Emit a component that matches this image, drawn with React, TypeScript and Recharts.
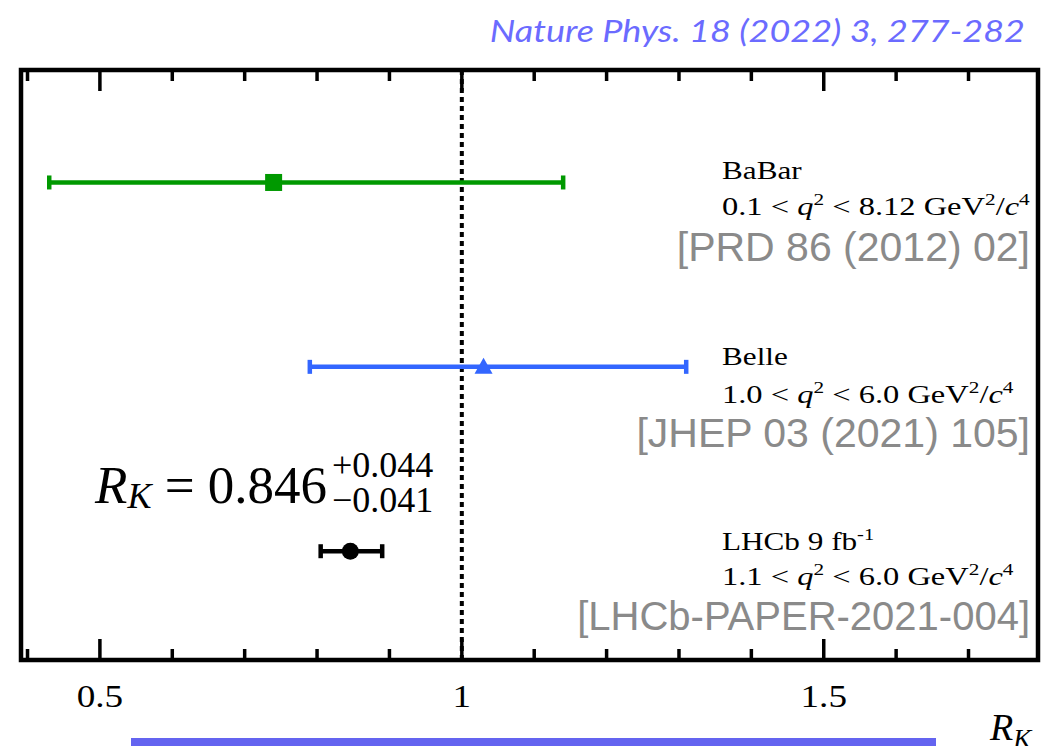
import React from 'react';
import {
  ComposedChart,
  Scatter,
  ErrorBar,
  XAxis,
  YAxis,
  ReferenceLine,
  ReferenceArea,
} from 'recharts';

// R_K measurements: central value with asymmetric uncertainties
const experiments = ['BaBar', 'Belle', 'LHCb 9 fb-1'];
const rkValues = [0.74, 1.03, 0.846];
const errLow = [0.31, 0.24, 0.041];
const errHigh = [0.4, 0.28, 0.044];
// vertical slot of each measurement (top to bottom)
const rows = [3, 2, 1];
const seriesColors = ['#009900', '#3366ff', '#000000'];

// R_K axis ticks (every 0.1, labelled every 0.5)
const xTicks = [0.4, 0.5, 0.6, 0.7, 0.8, 0.9, 1.0, 1.1, 1.2, 1.3, 1.4, 1.5, 1.6, 1.7];
const xDomain = [0.391, 1.796];
const yDomain = [0.41, 3.61];

const W = 1045;
const H = 746;
const MARGIN = { top: 70, right: 7, bottom: 85, left: 20 };
const MAJOR_LEN = 21;
const MINOR_LEN = 11;

const serif = '"Liberation Serif", "Times New Roman", serif';
const sans = '"Liberation Sans", Arial, Helvetica, sans-serif';

const seriesData = experiments.map((name, i) => [
  { name, rk: rkValues[i], row: rows[i], err: [errLow[i], errHigh[i]] },
]);

// anchor points for the tick marks along the top edge of the frame
const topTickData = xTicks.map((v) => ({ rk: v, row: yDomain[1] }));

const isMajor = (v: number) => Math.abs(v * 2 - Math.round(v * 2)) < 1e-6;

// Inward tick marks on the bottom edge of the frame, label below
const BottomTick = (props: any) => {
  const { x, y, payload } = props;
  const v = payload.value as number;
  const major = isMajor(v);
  return (
    <g>
      <line x1={x} y1={y} x2={x} y2={y - (major ? MAJOR_LEN : MINOR_LEN)} stroke="#000" strokeWidth={3.5} />
      {major && (
        <text
          transform={`translate(${x},${y + 47}) scale(1.2,1)`}
          textAnchor="middle"
          fontFamily={serif}
          fontSize={31}
          fill="#000"
        >
          {String(v)}
        </text>
      )}
    </g>
  );
};

// Inward tick mark hanging from the top edge of the frame
const TopTickMark = (props: any) => {
  const { cx, cy, payload } = props;
  const len = isMajor(Number(payload?.rk)) ? MAJOR_LEN : MINOR_LEN;
  return (
    <path d={`M${cx},${cy} L${cx},${cy + len}`} stroke="#000" strokeWidth={3.5} fill="none" />
  );
};

const SquareMark = (props: any) => (
  <rect x={props.cx - 8.5} y={props.cy - 8.5} width={17} height={17} fill={seriesColors[0]} />
);
const TriangleMark = (props: any) => (
  <polygon
    points={`${props.cx},${props.cy - 9} ${props.cx - 9},${props.cy + 7} ${props.cx + 9},${props.cy + 7}`}
    fill={seriesColors[1]}
  />
);
const CircleMark = (props: any) => <circle cx={props.cx} cy={props.cy} r={8.5} fill={seriesColors[2]} />;
const markShapes = [SquareMark, TriangleMark, CircleMark];

// Kinematic-range line: "lo < q² < hi GeV²/c⁴"
const RangeLine = ({ x, y, lo, hi }: { x: number; y: number; lo: string; hi: string }) => (
  <text
    transform={`translate(${x},${y}) scale(1.25,1)`}
    fontFamily={serif}
    fontSize={26}
    fill="#000"
  >
    {lo} &lt; <tspan fontStyle="italic">q</tspan>
    <tspan dy={-10} fontSize={17}>2</tspan>
    <tspan dy={10}> &lt; {hi} GeV</tspan>
    <tspan dy={-10} fontSize={17}>2</tspan>
    <tspan dy={10}>/</tspan>
    <tspan fontStyle="italic">c</tspan>
    <tspan dy={-10} fontSize={17}>4</tspan>
  </text>
);

// Text layer, placed underneath the (transparent) chart surface
const Annotations = () => (
  <svg
    width={W}
    height={H}
    style={{ position: 'absolute', left: 0, top: 0, pointerEvents: 'none' }}
  >
    <text
      transform="translate(1025,42) scale(1.2,1)"
      textAnchor="end"
      fontFamily='"Lato", "Open Sans", sans-serif'
      fontStyle="italic"
      fontSize={30}
      fill="#6b6bff"
    >
      Nature Phys. 18 (2022) 3, 277-282
    </text>

    {/* BaBar */}
    <text transform="translate(722,179) scale(1.2,1)" fontFamily={serif} fontSize={26} fill="#000">
      BaBar
    </text>
    <RangeLine x={722} y={215} lo="0.1" hi="8.12" />
    <text x={1030} y={261} textAnchor="end" fontFamily={sans} fontSize={41} fill="#8a8a8a">
      [PRD 86 (2012) 02]
    </text>

    {/* Belle */}
    <text transform="translate(722,365) scale(1.2,1)" fontFamily={serif} fontSize={26} fill="#000">
      Belle
    </text>
    <RangeLine x={722} y={403} lo="1.0" hi="6.0" />
    <text x={1030} y={447} textAnchor="end" fontFamily={sans} fontSize={41} fill="#8a8a8a">
      [JHEP 03 (2021) 105]
    </text>

    {/* LHCb */}
    <text transform="translate(722,550) scale(1.2,1)" fontFamily={serif} fontSize={26} fill="#000">
      LHCb 9 fb
      <tspan dy={-10} fontSize={17}>-1</tspan>
    </text>
    <RangeLine x={722} y={585} lo="1.1" hi="6.0" />
    <text x={1030} y={630} textAnchor="end" fontFamily={sans} fontSize={40} fill="#8a8a8a">
      [LHCb-PAPER-2021-004]
    </text>

    {/* LHCb result */}
    <text x={95} y={503} fontFamily={serif} fontSize={53} fill="#000">
      <tspan fontStyle="italic">R</tspan>
      <tspan dy={5} fontSize={36} fontStyle="italic">K</tspan>
      <tspan dy={-5}> = 0.846</tspan>
    </text>
    <text x={332} y={477} fontFamily={serif} fontSize={36} fill="#000">
      +0.044
    </text>
    <text x={332} y={512} fontFamily={serif} fontSize={36} fill="#000">
      −0.041
    </text>

    {/* axis title */}
    <text x={990} y={740} fontFamily={serif} fontSize={38} fill="#000">
      <tspan fontStyle="italic">R</tspan>
      <tspan dy={8} fontSize={27} fontStyle="italic">K</tspan>
    </text>

    <rect x={131} y={738} width={805} height={10} fill="#6464f0" />
  </svg>
);

export default function App() {
  return (
    <div style={{ position: 'absolute', left: 0, top: 0, width: W, height: H, background: '#fff' }}>
      <Annotations />
      <div style={{ position: 'absolute', left: 0, top: 0, width: W, height: H }}>
        <ComposedChart width={W} height={H} margin={MARGIN}>
          <XAxis
            xAxisId="b"
            type="number"
            dataKey="rk"
            orientation="bottom"
            domain={xDomain}
            ticks={xTicks}
            interval={0}
            height={1}
            tickSize={0}
            tickMargin={0}
            tickLine={false}
            axisLine={false}
            tick={<BottomTick />}
          />
          <YAxis
            yAxisId="l"
            type="number"
            dataKey="row"
            orientation="left"
            domain={yDomain}
            width={1}
            tick={false}
            tickLine={false}
            axisLine={false}
          />
          {/* plot frame */}
          <ReferenceArea
            xAxisId="b"
            yAxisId="l"
            x1={xDomain[0]}
            x2={xDomain[1]}
            y1={yDomain[0]}
            y2={yDomain[1]}
            fill="none"
            fillOpacity={0}
            stroke="#000"
            strokeWidth={4.5}
            ifOverflow="visible"
          />
          <ReferenceLine
            x={1}
            xAxisId="b"
            yAxisId="l"
            stroke="#000"
            strokeWidth={4}
            strokeDasharray="5 4"
          />
          {/* tick marks along the top edge */}
          <Scatter
            name="top ticks"
            data={topTickData}
            xAxisId="b"
            yAxisId="l"
            fill="#000"
            isAnimationActive={false}
            shape={(p: any) => <TopTickMark {...p} />}
          />
          {seriesData.map((d, i) => {
            const Shape = markShapes[i];
            return (
              <Scatter
                key={experiments[i]}
                name={experiments[i]}
                data={d}
                xAxisId="b"
                yAxisId="l"
                fill={seriesColors[i]}
                isAnimationActive={false}
                shape={(p: any) => <Shape {...p} />}
              >
                <ErrorBar
                  dataKey="err"
                  direction="x"
                  width={7}
                  stroke={seriesColors[i]}
                  strokeWidth={4.5}
                  isAnimationActive={false}
                />
              </Scatter>
            );
          })}
        </ComposedChart>
      </div>
    </div>
  );
}
